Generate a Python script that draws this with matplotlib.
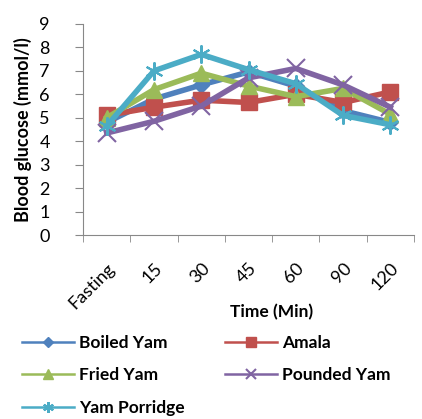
import matplotlib.pyplot as plt
import numpy as np

plt.rcParams['font.family'] = ['Lato', 'DejaVu Sans']

times = ['Fasting', '15', '30', '45', '60', '90', '120']

boiled_yam = [4.8, 5.8, 6.4, 6.95, 6.35, 5.3, 4.8]
amala = [5.1, 5.45, 5.75, 5.65, 6.0, 5.65, 6.1]
fried_yam = [5.0, 6.2, 6.9, 6.35, 5.9, 6.25, 5.15]
pounded_yam = [4.35, 4.85, 5.5, 6.7, 7.1, 6.4, 5.45]
yam_porridge = [4.65, 7.0, 7.7, 7.05, 6.45, 5.1, 4.7]

series = [
    ('Boiled Yam', boiled_yam, '#4F81BD', 'D', 8),
    ('Amala', amala, '#C0504D', 's', 12),
    ('Fried Yam', fried_yam, '#9BBB59', '^', 11),
    ('Pounded Yam', pounded_yam, '#8064A2', 'x', 13),
    ('Yam Porridge', yam_porridge, '#4BACC6', (6, 2, 0), 13),
]

fig = plt.figure(figsize=(4.22, 4.19), dpi=100)
ax = fig.add_axes([0.197, 0.439, 0.784, 0.504])

x = np.arange(len(times))
for name, vals, col, mk, ms in series:
    ax.plot(x, vals, color=col, lw=4, marker=mk, markersize=ms,
            markeredgecolor=col, markeredgewidth=1.5 if mk in ('x',) or isinstance(mk, tuple) else 1,
            label=name)

ax.set_xlim(-0.5, len(times) - 0.5)
ax.set_ylim(0, 9)
ax.set_yticks(range(0, 10))
ax.set_xticks(x)
ax.set_xticklabels(times, rotation=45, ha='right', rotation_mode='anchor', fontsize=13)
ax.set_xticks(np.arange(-0.5, len(times)), minor=True)
ax.tick_params(axis='x', which='major', length=0, pad=18)
ax.tick_params(axis='x', which='minor', length=5, color='#888888')
ax.tick_params(axis='y', length=6, color='#888888', labelsize=13, pad=18)

for s in ['top', 'right']:
    ax.spines[s].set_visible(False)
for s in ['left', 'bottom']:
    ax.spines[s].set_color('#888888')

ax.set_ylabel('Blood glucose (mmol/l)', fontsize=13, fontweight='bold', labelpad=5)
ax.set_xlabel('Time (Min)', fontsize=12.5, fontweight='bold')
ax.xaxis.set_label_coords(0.57, -0.325)

handles, labels = ax.get_legend_handles_labels()
order = [0, 2, 4, 1, 3]
leg = fig.legend([handles[i] for i in order], [labels[i] for i in order],
                 loc='lower left', bbox_to_anchor=(0.015, -0.03),
                 ncol=2, frameon=False, handlelength=3.0,
                 handletextpad=0.3, columnspacing=2.3, labelspacing=0.95,
                 markerscale=0.6, prop={'weight': 'bold', 'size': 12.5})
for h in leg.get_lines():
    h.set_linewidth(1.8)

fig.savefig('out.png', dpi=100)
